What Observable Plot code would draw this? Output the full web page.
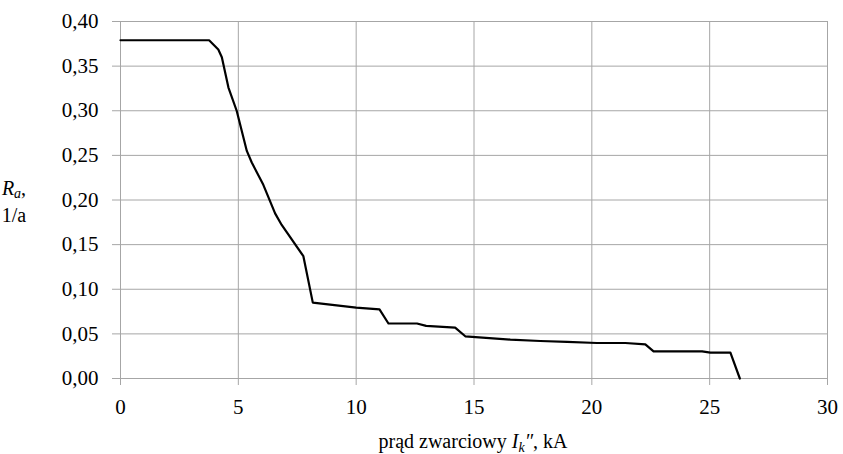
<!DOCTYPE html>
<html>
<head>
<meta charset="utf-8">
<script src="https://cdn.jsdelivr.net/npm/d3@7"></script>
<script src="https://cdn.jsdelivr.net/npm/@observablehq/plot@0.6"></script>
<style>
  html, body { margin: 0; padding: 0; background: #fff; }
  #chart { width: 843px; height: 454px; }
  #chart svg, #chart svg text { font-family: "Liberation Serif", "Times New Roman", Tinos, "DejaVu Serif", serif !important; }
</style>
</head>
<body>
<div id="chart"></div>
<script>
// Short-circuit current I_k'' (kA)
const current = [0, 3.76, 4.15, 4.3, 4.58, 4.93, 5.36, 5.57, 6.06, 6.56, 6.84, 7.76, 8.16, 10.0, 10.99, 11.37, 12.58, 12.97, 14.2, 14.63, 16.54, 17.81, 18.95, 20.22, 21.42, 22.27, 22.62, 24.68, 25.03, 25.88, 26.28];
// R_a (1/a)
const ra = [0.379, 0.379, 0.3686, 0.360, 0.326, 0.300, 0.255, 0.242, 0.217, 0.185, 0.172, 0.137, 0.085, 0.0795, 0.0774, 0.0616, 0.0616, 0.0589, 0.057, 0.0473, 0.0436, 0.042, 0.041, 0.0398, 0.0398, 0.0383, 0.0304, 0.0304, 0.029, 0.029, 0.0];
const xTicks = [0, 5, 10, 15, 20, 25, 30];
const yTicks = [0, 0.05, 0.10, 0.15, 0.20, 0.25, 0.30, 0.35, 0.40];

const data = current.map((x, i) => ({x, y: ra[i]}));
const grid = "#a6a6a6";
const font = "Liberation Serif, Times New Roman, serif";

const plot = Plot.plot({
  width: 843,
  height: 454,
  marginLeft: 120,
  marginRight: 16,
  marginTop: 21,
  marginBottom: 76,
  style: {fontSize: "21px", color: "#000", background: "#fff"},
  x: {domain: [0, 30]},
  y: {domain: [0, 0.40]},
  marks: [
    Plot.gridX(xTicks, {stroke: grid, strokeOpacity: 1, strokeWidth: 1}),
    Plot.gridY(yTicks, {stroke: grid, strokeOpacity: 1, strokeWidth: 1}),
    Plot.axisX(xTicks, {tickSize: 7, tickPadding: 14, stroke: grid, strokeOpacity: 1, label: null, fill: "#000", fontSize: 21}),
    Plot.axisY(yTicks, {tickSize: 8, tickPadding: 14, stroke: grid, strokeOpacity: 1, label: null, fill: "#000", fontSize: 21,
      tickFormat: d => d.toFixed(2).replace(".", ",")}),
    Plot.line(data, {x: "x", y: "y", stroke: "#000", strokeWidth: 2.2, strokeLinejoin: "round"})
  ]
});

const svg = d3.select(plot);
// x-axis title
const xt = svg.append("text")
  .attr("x", 473).attr("y", 448)
  .attr("text-anchor", "middle")
  .attr("font-size", 20).attr("fill", "#000");
xt.append("tspan").text("prąd zwarciowy ");
xt.append("tspan").attr("font-style", "italic").text("I");
xt.append("tspan").attr("font-style", "italic").attr("font-size", 14).attr("dy", 4).text("k");
xt.append("tspan").attr("font-style", "italic").attr("dy", -4).text("″");
xt.append("tspan").text(", kA");

// y-axis title
const yt = svg.append("text")
  .attr("x", 14).attr("y", 195)
  .attr("font-size", 20).attr("fill", "#000");
yt.append("tspan").attr("font-style", "italic").text("R");
yt.append("tspan").attr("font-style", "italic").attr("font-size", 14).attr("dy", 3).text("a");
yt.append("tspan").attr("dy", -3).text(",");
svg.append("text")
  .attr("x", 14).attr("y", 222)
  .attr("font-size", 20).attr("fill", "#000")
  .text("1/a");

document.getElementById("chart").appendChild(plot);
</script>
</body>
</html>
